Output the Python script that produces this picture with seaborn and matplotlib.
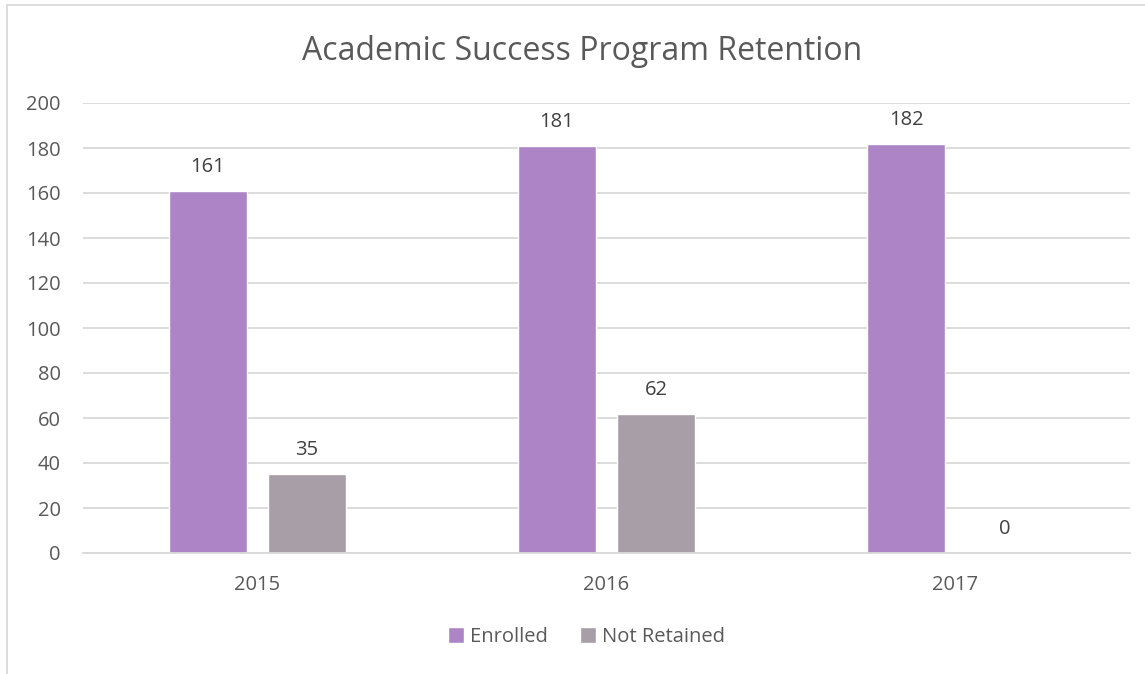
import matplotlib
matplotlib.use('Agg')
import matplotlib.pyplot as plt
from matplotlib.patches import Rectangle
import pandas as pd
import seaborn as sns

# -----------------------------------------------------------------------
# Data
years = ['2015', '2016', '2017']
enrolled = [161, 181, 182]
not_retained = [35, 62, 0]
series_names = ['Enrolled', 'Not Retained']
colormap = {'Enrolled': '#AD84C6', 'Not Retained': '#A89EA7'}
text_color = '#595959'
grid_color = '#D9D9D9'

frame = pd.DataFrame({'Year': years * 2,
                      'Series': [series_names[0]] * 3 + [series_names[1]] * 3,
                      'Count': enrolled + not_retained})

# -----------------------------------------------------------------------
# Draw
sns.set_style('white')
plt.rcParams['font.family'] = ['Open Sans', 'DejaVu Sans']

fig = plt.figure(figsize=(11.45, 6.74), dpi=100)
ax = fig.add_axes([83 / 1145, 1 - 553 / 674, 1047 / 1145, 450 / 674])

sns.barplot(data=frame, x='Year', y='Count', hue='Series',
            palette=colormap, width=0.567, gap=0.212,
            saturation=1, ax=ax, legend=True)

for container in ax.containers:
    ax.bar_label(container, padding=10, fontsize=14.5, color='#404040')

ax.set_ylim(0, 200)
ax.set_yticks(range(0, 201, 20))
ax.set_xlim(-0.5, 2.5)
ax.yaxis.grid(True, color=grid_color, linewidth=1.3)
ax.set_axisbelow(True)
for side in ['top', 'right', 'left']:
    ax.spines[side].set_visible(False)
ax.spines['bottom'].set_color(grid_color)
ax.spines['bottom'].set_linewidth(1.3)
ax.tick_params(axis='both', length=0, labelsize=14.5, colors=text_color)
ax.tick_params(axis='y', pad=16)
ax.tick_params(axis='x', pad=16)
ax.set_xlabel('')
ax.set_ylabel('')

fig.text(582 / 1145, 1 - 52 / 674, 'Academic Success Program Retention',
         ha='center', va='center', fontsize=23, color=text_color)

ax.legend(loc='center', bbox_to_anchor=(0.481, -0.187), ncol=2, frameon=False,
          fontsize=14.5, labelcolor=text_color, handlelength=0.8,
          handleheight=0.8, handletextpad=0.3, columnspacing=1.6)

# Chart border
fig.patches.append(Rectangle((7 / 1145, -0.1), 1.2, 1 - 5 / 674 + 0.1,
                             transform=fig.transFigure, fill=False,
                             edgecolor=grid_color, linewidth=1.3))

fig.savefig('out.png', dpi=100)
